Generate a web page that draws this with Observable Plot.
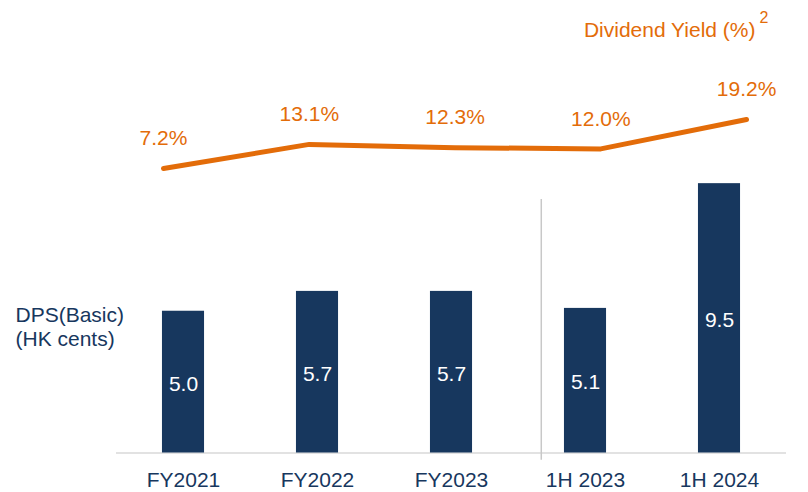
<!DOCTYPE html>
<html>
<head>
<meta charset="utf-8">
<script src="https://cdn.jsdelivr.net/npm/d3@7"></script>
<script src="https://cdn.jsdelivr.net/npm/@observablehq/plot@0.6"></script>
<style>
  html, body { margin: 0; padding: 0; background: #fff; }
  #chart { width: 808px; height: 492px; }
</style>
</head>
<body>
<div id="chart"></div>
<script>
// ---- data ----
const categories = ["FY2021", "FY2022", "FY2023", "1H 2023", "1H 2024"];
const dps = [5.0, 5.7, 5.7, 5.1, 9.5];
const dividendYield = [7.2, 13.1, 12.3, 12.0, 19.2];
const yieldLabels = ["7.2%", "13.1%", "12.3%", "12.0%", "19.2%"];
const yAxisLabel = "DPS(Basic)\n(HK cents)";
const lineTitle = "Dividend Yield (%)";
const lineTitleNote = "2";

// ---- styling / layout ----
const navy = "#17375E";
const orange = "#E36C09";
const font = "'Liberation Sans', Arial, Helvetica, sans-serif";
const barHalf = 0.157;            // half bar width in category units
const dividerAt = 2.67;           // separator between FY and 1H groups
const lineOffset = -0.149, lineSpread = 1.0877; // secondary x placement of the yield line
const yieldBase = 8.998, yieldPerPct = 0.144;   // secondary y axis for yield (in DPS units)

const rows = categories.map((c, i) => ({i, category: c, dps: dps[i], yld: dividendYield[i], label: yieldLabels[i]}));
const lx = d => lineOffset + d.i * lineSpread;
const ly = d => yieldBase + d.yld * yieldPerPct;

const chart = Plot.plot({
  width: 808,
  height: 492,
  marginTop: 0,
  marginBottom: 39.5,
  marginLeft: 116,
  marginRight: 22,
  style: {fontFamily: font, color: navy, background: "white"},
  x: {type: "linear", domain: [-0.5, 4.5], axis: null},
  y: {domain: [0, 15.96], axis: null},
  marks: [
    Plot.ruleY([0], {stroke: "#d9d9d9", strokeWidth: 1.5}),
    Plot.ruleX([dividerAt], {y1: -0.26, y2: 8.94, stroke: "#c8c8c8", strokeWidth: 1.5}),
    Plot.rectY(rows, {x1: d => d.i - barHalf, x2: d => d.i + barHalf, y1: 0, y2: "dps", fill: navy}),
    Plot.text(rows, {x: "i", y: d => d.dps / 2, text: d => d.dps.toFixed(1), fill: "white", fontSize: 21, dy: 2, lineAnchor: "middle"}),
    Plot.axisX(rows.map(d => d.i), {tickSize: 0, tickPadding: 19.5, tickFormat: i => categories[i], fontSize: 21, fill: navy, label: null}),
    Plot.line(rows, {x: lx, y: ly, stroke: orange, strokeWidth: 5, strokeLinecap: "round", strokeLinejoin: "round"}),
    Plot.text(rows, {x: lx, y: ly, text: "label", dy: -30, fill: orange, fontSize: 21, lineAnchor: "middle"}),
    Plot.text([yAxisLabel], {frameAnchor: "left", y: () => 4.46, textAnchor: "start", dx: -101, lineAnchor: "middle", lineHeight: 1.1, fill: navy, fontSize: 21}),
    Plot.text([lineTitle], {frameAnchor: "top-right", textAnchor: "end", lineAnchor: "middle", dx: -31, dy: 29.5, fill: orange, fontSize: 21}),
    Plot.text([lineTitleNote], {frameAnchor: "top-right", textAnchor: "start", lineAnchor: "middle", dx: -27, dy: 17.5, fill: orange, fontSize: 16})
  ]
});
document.getElementById("chart").appendChild(chart);
</script>
</body>
</html>
